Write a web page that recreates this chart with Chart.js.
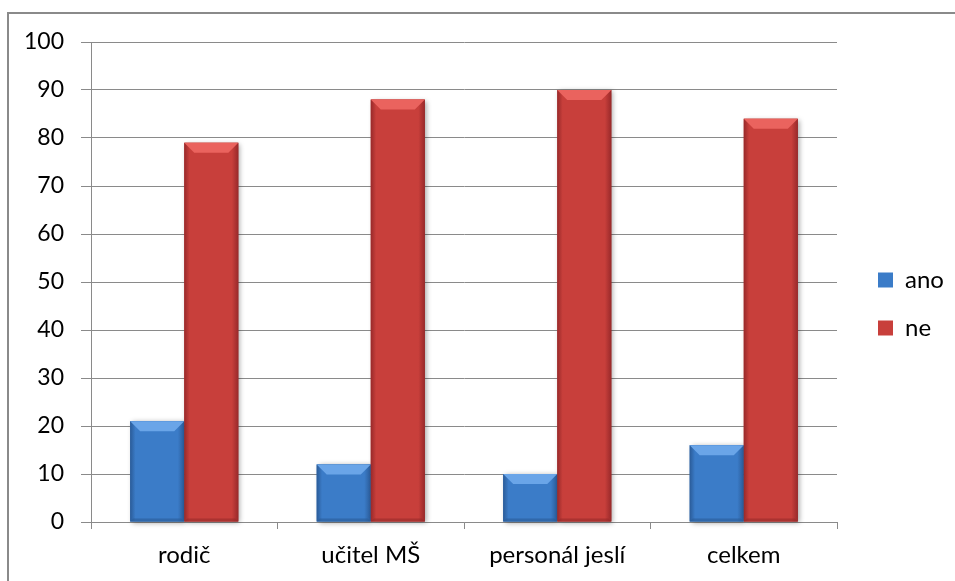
<!DOCTYPE html>
<html>
<head>
<meta charset="utf-8">
<script src="https://cdn.jsdelivr.net/npm/chart.js@4/dist/chart.umd.min.js"></script>
<style>
  html, body { margin: 0; padding: 0; background: #fff; }
  #wrap { position: relative; width: 955px; height: 581px; overflow: hidden; }
  #frame { position: absolute; left: 7px; top: 12px; width: 1000px; height: 1000px; border: 2px solid #8a8a8a; box-sizing: border-box; }
  canvas { position: absolute; left: 0; top: 0; }
</style>
</head>
<body>
<div id="wrap">
  <div id="frame"></div>
  <canvas id="c" width="955" height="581"></canvas>
</div>
<script>
const categories = ['rodič', 'učitel MŠ', 'personál jeslí', 'celkem'];
const seriesNames = ['ano', 'ne'];
const anoValues = [21, 12, 10, 16];
const neValues = [79, 88, 90, 84];
const yTickStep = 10;
const yMin = 0;
const yMax = 100;

const FONT = 'Lato, "Open Sans", sans-serif';
const palette = {
  ano: { face: '#3b7cc8', light: '#6aa5e8', dark: '#2a5b98' },
  ne:  { face: '#c83f3b', light: '#ea635e', dark: '#98292a' }
};

const bevelPlugin = {
  id: 'bevel',
  afterDatasetsDraw(chart) {
    const ctx = chart.ctx;
    chart.data.datasets.forEach((ds, di) => {
      const meta = chart.getDatasetMeta(di);
      const pal = palette[ds.label];
      meta.data.forEach(bar => {
        const p = bar.getProps(['x', 'y', 'base', 'width'], true);
        const l = p.x - p.width / 2, r = p.x + p.width / 2;
        const t = Math.min(p.y, p.base), b = Math.max(p.y, p.base);
        const h = b - t;
        const bv = Math.min(10, h / 2, p.width / 4);
        ctx.save();
        ctx.shadowColor = 'rgba(0,0,0,0.35)';
        ctx.shadowBlur = 5;
        ctx.shadowOffsetX = 2;
        ctx.shadowOffsetY = 1;
        const g = ctx.createLinearGradient(l, 0, r, 0);
        g.addColorStop(0, pal.dark);
        g.addColorStop(0.1, pal.face);
        g.addColorStop(0.88, pal.face);
        g.addColorStop(1, pal.dark);
        ctx.fillStyle = g;
        ctx.fillRect(l, t, r - l, h);
        ctx.restore();
        ctx.save();
        ctx.fillStyle = pal.light;
        ctx.beginPath();
        ctx.moveTo(l, t); ctx.lineTo(r, t); ctx.lineTo(r - bv, t + bv); ctx.lineTo(l + bv, t + bv); ctx.closePath();
        ctx.fill();
        ctx.fillStyle = pal.dark;
        ctx.globalAlpha = 0.6;
        ctx.beginPath();
        ctx.moveTo(l, b); ctx.lineTo(r, b); ctx.lineTo(r - 3, b - 3); ctx.lineTo(l + 3, b - 3); ctx.closePath();
        ctx.fill();
        ctx.restore();
      });
    });
  }
};

const legendPlace = {
  id: 'legendPlace',
  beforeDraw(chart) {
    if (chart.legend) {
      const w = chart.legend.width;
      chart.legend.left = 854;
      chart.legend.right = 854 + w;
      chart.legend.top = 244;
    }
  }
};

new Chart(document.getElementById('c'), {
  type: 'bar',
  data: {
    labels: categories,
    datasets: [
      { label: seriesNames[0], data: anoValues, backgroundColor: palette.ano.face, borderWidth: 0 },
      { label: seriesNames[1], data: neValues, backgroundColor: palette.ne.face, borderWidth: 0 }
    ]
  },
  options: {
    responsive: false,
    animation: false,
    devicePixelRatio: 1,
    layout: { padding: { left: 0, top: 42, right: 23, bottom: 0 } },
    datasets: { bar: { categoryPercentage: 0.58, barPercentage: 1.0 } },
    plugins: {
      tooltip: { enabled: false },
      legend: {
        position: 'right',
        align: 'start',
        maxWidth: 95,
        labels: {
          boxWidth: 15,
          boxHeight: 15,
          padding: 24,
          color: '#000',
          font: { family: FONT, size: 24 }
        }
      }
    },
    scales: {
      x: {
        grid: { display: true, drawOnChartArea: false, drawTicks: true, tickLength: 7, color: '#8a8a8a', offset: true },
        border: { display: true, color: '#8a8a8a', width: 1 },
        ticks: { color: '#000', font: { family: FONT, size: 24 }, padding: 12, maxRotation: 0 },
        afterFit(scale) { scale.height = 59; }
      },
      y: {
        min: yMin,
        max: yMax,
        ticks: { stepSize: yTickStep, color: '#000', font: { family: FONT, size: 23 }, padding: 17 },
        grid: { color: '#8a8a8a', lineWidth: 1, tickLength: 10, drawTicks: true },
        border: { display: true, color: '#8a8a8a', width: 1 },
        afterFit(scale) { scale.width = 91; }
      }
    }
  },
  plugins: [bevelPlugin, legendPlace]
});
</script>
</body>
</html>
